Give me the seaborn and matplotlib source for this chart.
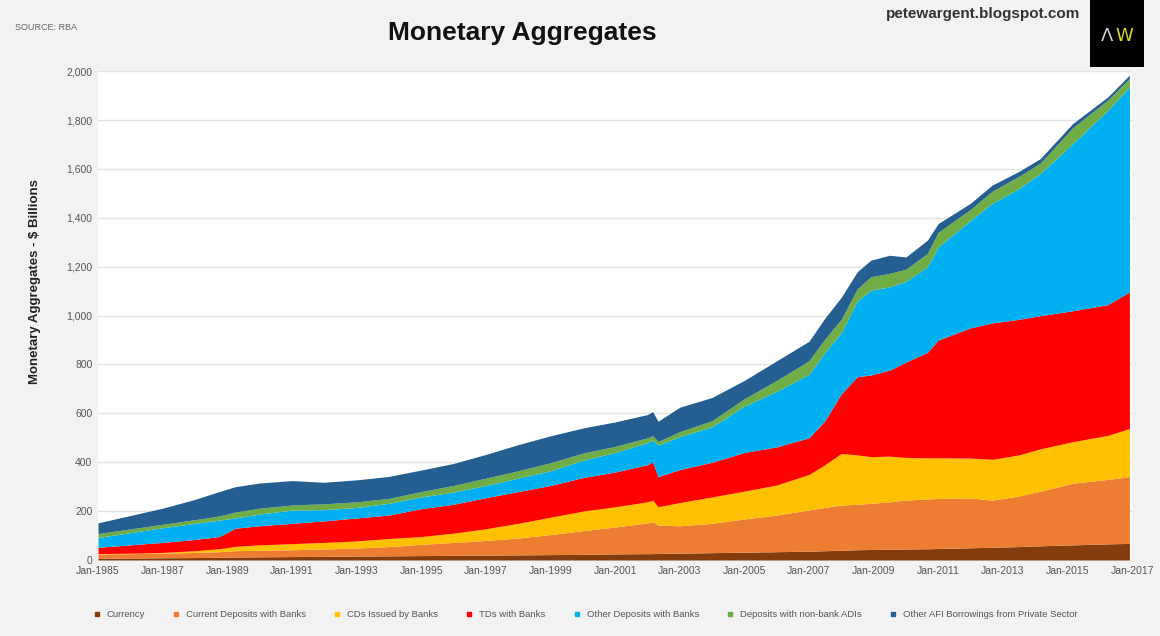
import numpy as np
import pandas as pd
import matplotlib
matplotlib.use("Agg")
import matplotlib.pyplot as plt
import matplotlib.dates as mdates
from matplotlib.lines import Line2D
from matplotlib.patches import Rectangle
from matplotlib.ticker import FuncFormatter
import seaborn as sns

dates = ["1985-01", "1986-01", "1987-01", "1988-01", "1988-10", "1989-04", "1990-01",
         "1991-01", "1992-01", "1993-01", "1994-01", "1995-01", "1996-01", "1997-01",
         "1998-01", "1999-01", "2000-01", "2001-01", "2002-01", "2002-03", "2002-05",
         "2003-01", "2004-01", "2005-01", "2006-01", "2007-01", "2007-07", "2008-01",
         "2008-07", "2008-12", "2009-07", "2010-01", "2010-09", "2011-01", "2012-01",
         "2012-09", "2013-07", "2014-03", "2015-03", "2016-04", "2016-12"]

# $ billions, one value per date
currency = [7, 8, 9, 10, 11, 12, 13, 14, 15, 16, 17, 18, 19, 20, 21, 22, 23, 25, 26, 26, 27,
            28, 30, 32, 34, 36, 38, 40, 42, 43, 44, 45, 46, 47, 50, 52, 55, 58, 62, 66, 68]
current_deposits = [17, 18, 19, 21, 23, 26, 27, 28, 30, 33, 38, 46, 53, 60, 69, 82, 97, 110, 126, 131, 116,
                    112, 120, 136, 150, 169, 177, 185, 186, 189, 194, 200, 204, 205, 204, 193, 207, 224, 252, 264, 273]
cds = [2, 2, 3, 7, 12, 18, 22, 25, 27, 29, 33, 32, 38, 48, 60, 71, 80, 83, 86, 88, 75,
       95, 108, 114, 123, 145, 175, 211, 202, 191, 187, 175, 168, 166, 163, 167, 168, 173, 170, 180, 197]
tds = [26, 34, 41, 46, 50, 74, 78, 83, 88, 94, 96, 114, 118, 127, 130, 130, 137, 142, 152, 157, 123,
       135, 142, 158, 156, 150, 180, 244, 320, 334, 352, 390, 432, 482, 533, 558, 555, 545, 536, 535, 559]
other_deposits = [40, 50, 60, 66, 67, 42, 48, 54, 46, 43, 48, 48, 50, 50, 55, 60, 71, 80, 90, 89, 129,
                  135, 145, 190, 227, 260, 280, 250, 310, 347, 341, 330, 350, 381, 440, 489, 535, 582, 684, 795, 839]
nonbank_adis = [16, 15, 14, 15, 17, 24, 24, 21, 24, 23, 20, 22, 27, 30, 30, 33, 29, 25, 20, 18, 15,
                20, 25, 30, 45, 55, 55, 55, 50, 55, 55, 50, 55, 60, 45, 50, 50, 42, 65, 42, 35]
afi_borrowings = [44, 55, 66, 83, 100, 104, 103, 100, 88, 90, 90, 88, 90, 97, 107, 110, 103, 100, 95, 98, 83,
                  100, 95, 75, 80, 80, 85, 90, 70, 68, 74, 50, 54, 36, 25, 25, 20, 19, 17, 13, 13]

labels = ["Currency", "Current Deposits with Banks", "CDs Issued by Banks", "TDs with Banks",
          "Other Deposits with Banks", "Deposits with non-bank ADIs",
          "Other AFI Borrowings from Private Sector"]
colors = ["#843c0c", "#ed7d31", "#ffc000", "#ff0000", "#00b0f0", "#70ad47", "#255e91"]

sns.set_style("white")
plt.rcParams["font.family"] = ["Liberation Sans", "DejaVu Sans"]

x = pd.to_datetime(dates)
fig = plt.figure(figsize=(11.6, 6.36), dpi=100, facecolor="#f2f2f2")
ax = fig.add_axes([0.0845, 0.1195, 0.8915, 0.7685])
ax.set_facecolor("white")

ax.stackplot(x, currency, current_deposits, cds, tds, other_deposits, nonbank_adis,
             afi_borrowings, colors=colors, linewidth=0, zorder=2)

ax.set_ylim(0, 2000)
ax.set_yticks(np.arange(0, 2001, 200))
ax.yaxis.set_major_formatter(FuncFormatter(lambda v, p: f"{int(v):,}"))
ax.set_xlim(pd.Timestamp("1985-01-01"), pd.Timestamp("2017-01-01"))
ax.set_xticks(pd.date_range("1985-01-01", "2017-01-01", freq="24MS"))
ax.xaxis.set_major_formatter(mdates.DateFormatter("%b-%Y"))
ax.grid(axis="y", color="#e3e3e3", linewidth=1, zorder=0)
ax.set_axisbelow(True)
for s in ax.spines.values():
    s.set_visible(False)
ax.tick_params(axis="both", length=0, labelsize=7.5, colors="#555555", pad=4)
ax.set_ylabel("Monetary Aggregates - $ Billions", fontsize=9.5, fontweight="bold",
              color="#222222")
ax.yaxis.set_label_coords(-0.055, 0.57)

fig.text(0.45, 0.948, "Monetary Aggregates", ha="center", va="center",
         fontsize=19, fontweight="bold", color="#111111")
fig.text(0.013, 0.957, "SOURCE: RBA", fontsize=6.5, color="#666666", va="center")
fig.text(0.931, 0.978, "petewargent.blogspot.com", ha="right", va="center",
         fontsize=11, fontweight="bold", color="#333333")

fig.patches.append(Rectangle((0.94, 0.895), 0.046, 0.105, transform=fig.transFigure,
                             facecolor="black", edgecolor="none"))
fig.text(0.9545, 0.943, "\u039b", fontsize=13, color="#cfcfcf", ha="center", va="center",
         family="DejaVu Sans")
fig.text(0.9695, 0.943, "W", fontsize=13, color="#d6d62a", ha="center", va="center",
         family="DejaVu Sans")

handles = [Line2D([], [], marker="s", linestyle="none", markersize=3.5,
                  markerfacecolor=c, markeredgecolor=c) for c in colors]
fig.legend(handles, labels, loc="center", bbox_to_anchor=(0.502, 0.034), ncol=7,
           frameon=False, fontsize=6.8, handletextpad=0.05, columnspacing=2.3,
           labelcolor="#555555")

fig.savefig("out.png", dpi=100, facecolor=fig.get_facecolor())
